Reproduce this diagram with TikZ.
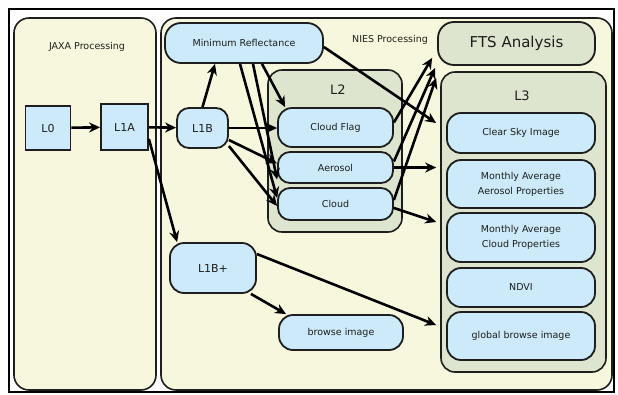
\documentclass[tikz,border=0pt]{standalone}
\usepackage{fontspec}
\setmainfont{DejaVu Sans}
\usetikzlibrary{arrows.meta}
\definecolor{paneyellow}{RGB}{247,247,221}
\definecolor{boxblue}{RGB}{204,234,249}
\definecolor{panegreen}{RGB}{221,229,206}
\definecolor{inkgray}{RGB}{30,30,30}

\begin{document}
\begin{tikzpicture}[
    x=1pt, y=-1pt,
    every node/.style={align=center, text=inkgray, font=\fontsize{9.5}{15}\selectfont, inner sep=0pt},
    pane/.style={draw=inkgray, line width=1.6pt, rounded corners=15pt, fill=paneyellow},
    group/.style={draw=inkgray, line width=1.6pt, rounded corners=14pt, fill=panegreen},
    level/.style={draw=inkgray, line width=1.8pt, fill=boxblue, font=\fontsize{11}{13}\selectfont},
    product/.style={draw=inkgray, line width=1.8pt, fill=boxblue, rounded corners=14pt},
    flow/.style={->, line width=2.6pt, black},
    >={Stealth[length=11pt,width=10pt]}
]
    \useasboundingbox (0,0) rectangle (618,394);
    \draw [line width=1.5pt] (9,9) rectangle (614,392);

    \node [pane, minimum width=142pt, minimum height=372pt] (jaxa) at (85,204) {};
    \node [pane, minimum width=451pt, minimum height=372pt] (nies) at (386.5,204) {};
    \node (jaxalabel) at (87,47) {JAXA Processing};
    \node (nieslabel) at (390,40) {NIES Processing};

    \node [group, minimum width=134pt, minimum height=162pt] (l2) at (335,151) {};
    \node [group, minimum width=165pt, minimum height=300pt] (l3) at (523.5,222) {};
    \node [font=\fontsize{13}{15}\selectfont] (l2label) at (338,90) {L2};
    \node [font=\fontsize{13}{15}\selectfont] (l3label) at (522,96) {L3};

    \node [level, minimum width=45pt, minimum height=44pt] (l0) at (48,128) {L0};
    \node [level, minimum width=47pt, minimum height=46pt] (l1a) at (124.5,127) {L1A};
    \node [level, rounded corners=12pt, minimum width=51pt, minimum height=40pt] (l1b) at (202.5,128) {L1B};
    \node [level, rounded corners=14pt, minimum width=86pt, minimum height=50pt] (l1bplus) at (213,268) {L1B+};

    \node [product, rounded corners=16pt, minimum width=158pt, minimum height=40pt] (minrefl) at (244,43) {Minimum Reflectance};
    \node [product, fill=panegreen, rounded corners=16pt, minimum width=157pt, minimum height=43pt,
           font=\fontsize{15}{17}\selectfont] (fts) at (516.5,43.5) {FTS Analysis};

    \node [product, minimum width=115pt, minimum height=39pt] (cloudflag) at (335.5,127.5) {Cloud Flag};
    \node [product, rounded corners=12pt, minimum width=115pt, minimum height=31pt] (aerosol) at (335.5,167.5) {Aerosol};
    \node [product, rounded corners=12pt, minimum width=115pt, minimum height=32pt] (cloud) at (335.5,204) {Cloud};

    \node [product, minimum width=148pt, minimum height=40pt] (clearsky) at (521,133) {Clear Sky Image};
    \node [product, minimum width=148pt, minimum height=48pt] (avgaerosol) at (521,184) {Monthly Average\\Aerosol Properties};
    \node [product, minimum width=148pt, minimum height=49pt] (avgcloud) at (521,237.5) {Monthly Average\\Cloud Properties};
    \node [product, minimum width=148pt, minimum height=39pt] (ndvi) at (521,287.5) {NDVI};
    \node [product, minimum width=148pt, minimum height=48pt] (globalbrowse) at (521,336) {global browse image};
    \node [product, minimum width=124pt, minimum height=35pt] (browse) at (341,332.5) {browse image};

    \draw [flow] (l0) -- (l1a);
    \draw [flow] (l1a) -- (l1b);
    \draw [flow] ([yshift=-12pt]l1a.east) -- ([xshift=8pt]l1bplus.north west);
    \draw [flow] (l1b.north) -- ([xshift=-29pt]minrefl.south);
    \draw [flow] (l1b.east) -- (l1b.east -| cloudflag.west);
    \draw [flow] ([yshift=-12pt]l1b.east) -- ([yshift=4pt]aerosol.west);
    \draw [flow] ([yshift=-18pt]l1b.east) -- ([yshift=-2pt]cloud.west);
    \draw [flow] ([xshift=18pt]minrefl.south) -- ([xshift=8pt]cloudflag.north west);
    \draw [flow] ([xshift=9pt]minrefl.south) -- ([yshift=-12pt]aerosol.west);
    \draw [flow] ([xshift=-4pt]minrefl.south) -- ([yshift=6pt]cloud.west);
    \draw [flow] ([yshift=-4pt]minrefl.east) -- ([xshift=-10pt,yshift=10pt]clearsky.west);
    \draw [flow] ([yshift=5pt]cloudflag.east) -- ([xshift=-5pt,yshift=8pt]fts.south west);
    \draw [flow] ([yshift=6pt]aerosol.east) -- ([xshift=-2pt,yshift=-2pt]fts.south west);
    \draw [flow] ([yshift=4pt]cloud.east) -- ([xshift=-1pt,yshift=-12pt]fts.south west);
    \draw [flow] (aerosol.east) -- ([xshift=-4pt]aerosol.east -| l3.west);
    \draw [flow] ([yshift=-4pt]cloud.east) -- ([xshift=-4pt]l3.west);
    \draw [flow] ([xshift=-6pt]l1bplus.south east) -- ([xshift=8pt]browse.north west);
    \draw [flow] ([yshift=14pt]l1bplus.east) -- ([xshift=-10pt,yshift=11pt]globalbrowse.west);
\end{tikzpicture}
\end{document}
